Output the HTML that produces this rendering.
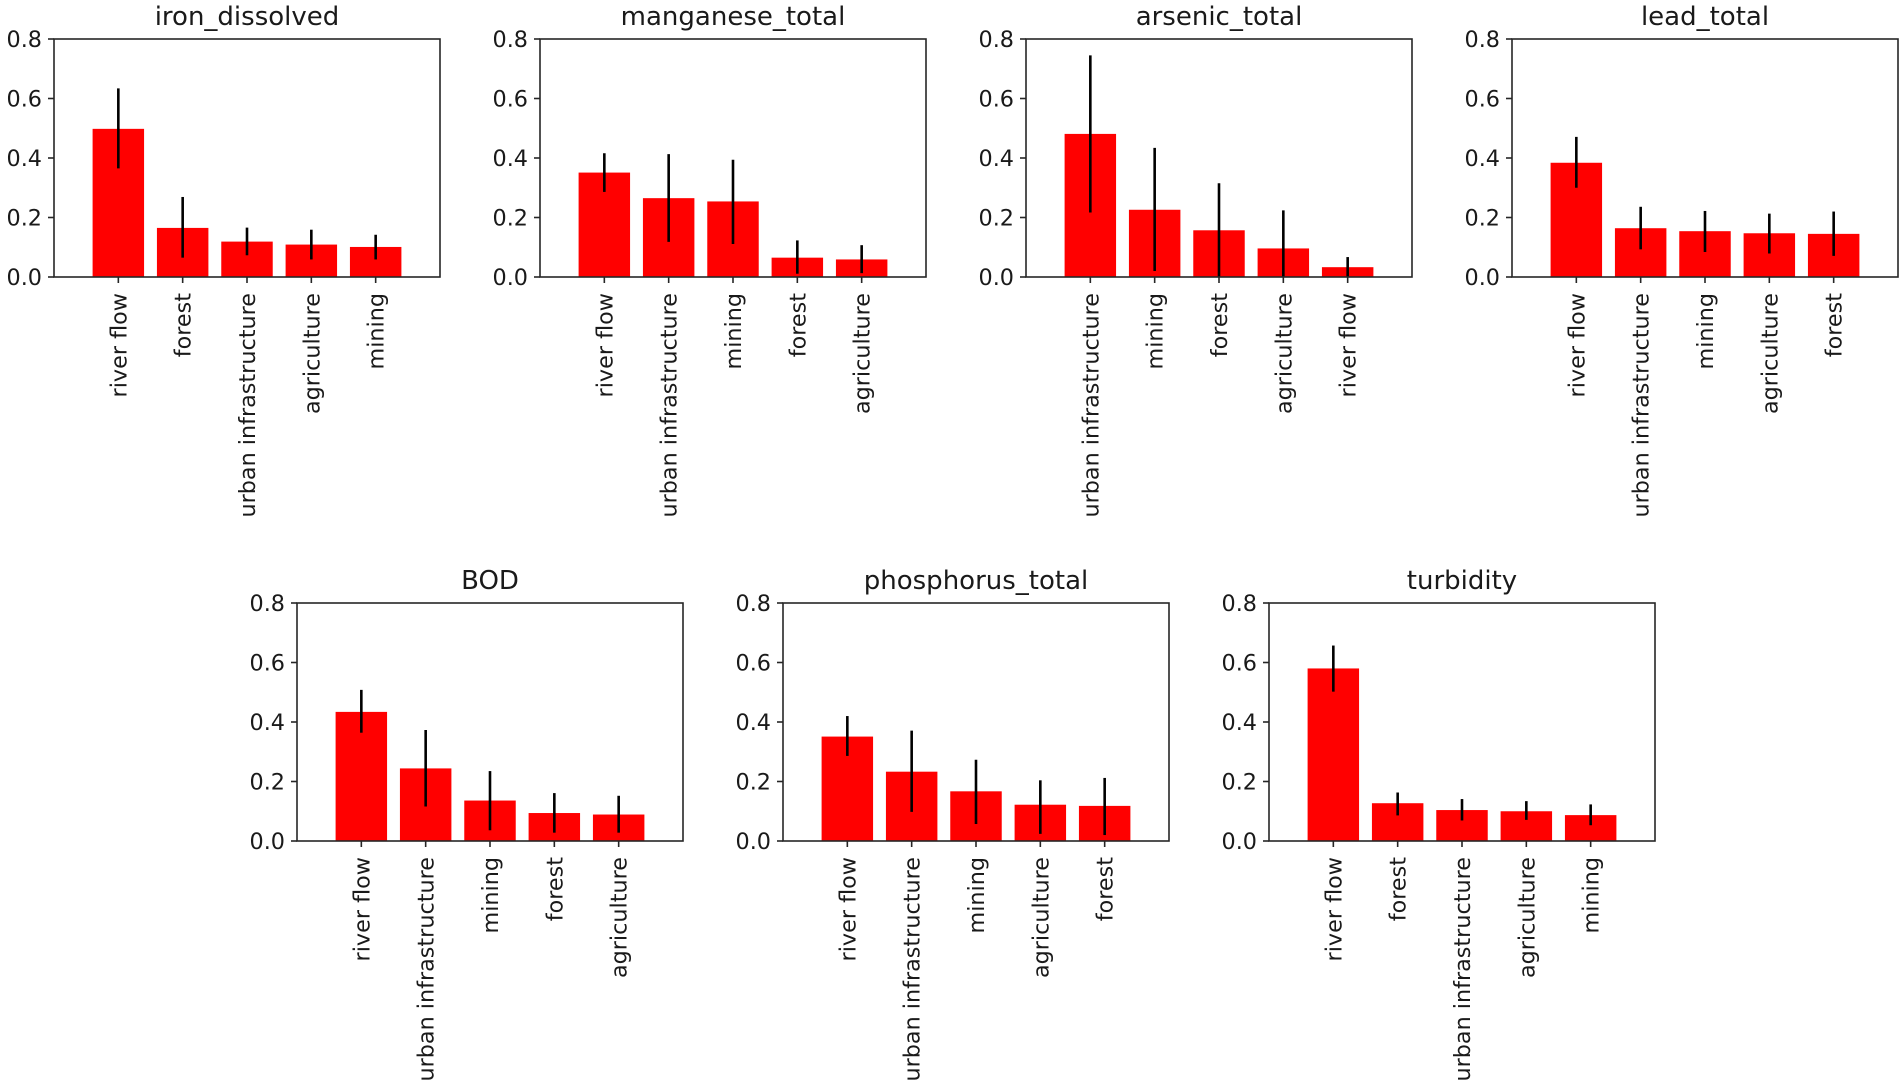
<!DOCTYPE html>
<html><head><meta charset="utf-8"><style>
html,body{margin:0;padding:0;background:#fff;}
svg{display:block;font-family:"DejaVu Sans","Liberation Sans",sans-serif;}
</style></head><body>
<svg id="fig" width="1902" height="1087" viewBox="0 0 1902 1087" xmlns="http://www.w3.org/2000/svg"></svg>
<script>
const titles = ["iron_dissolved","manganese_total","arsenic_total","lead_total","BOD","phosphorus_total","turbidity"];
const categories = [
  ["river flow","forest","urban infrastructure","agriculture","mining"],
  ["river flow","urban infrastructure","mining","forest","agriculture"],
  ["urban infrastructure","mining","forest","agriculture","river flow"],
  ["river flow","urban infrastructure","mining","agriculture","forest"],
  ["river flow","urban infrastructure","mining","forest","agriculture"],
  ["river flow","urban infrastructure","mining","agriculture","forest"],
  ["river flow","forest","urban infrastructure","agriculture","mining"]
];
const values = [
  [0.498,0.165,0.119,0.109,0.101],
  [0.351,0.265,0.254,0.065,0.059],
  [0.481,0.226,0.157,0.096,0.033],
  [0.384,0.164,0.154,0.147,0.145],
  [0.434,0.244,0.136,0.094,0.089],
  [0.351,0.233,0.167,0.122,0.118],
  [0.580,0.127,0.104,0.100,0.087]
];
const errLow = [
  [0.365,0.065,0.073,0.059,0.059],
  [0.286,0.118,0.111,0.011,0.013],
  [0.217,0.020,0.000,0.000,0.000],
  [0.300,0.093,0.084,0.079,0.071],
  [0.364,0.116,0.036,0.028,0.028],
  [0.286,0.098,0.057,0.024,0.020],
  [0.502,0.086,0.069,0.071,0.053]
];
const errHigh = [
  [0.634,0.269,0.166,0.159,0.142],
  [0.416,0.413,0.394,0.123,0.107],
  [0.745,0.434,0.315,0.224,0.067],
  [0.471,0.236,0.222,0.213,0.220],
  [0.508,0.373,0.235,0.161,0.152],
  [0.420,0.371,0.273,0.204,0.212],
  [0.657,0.163,0.141,0.134,0.123]
];
const yTicks = [0,0.2,0.4,0.6,0.8];
const yTickLabels = ["0.0","0.2","0.4","0.6","0.8"];

const NS="http://www.w3.org/2000/svg";
const svg=document.getElementById('fig');
function mk(tag,attrs,parent){const e=document.createElementNS(NS,tag);for(const k in attrs)e.setAttribute(k,attrs[k]);(parent||svg).appendChild(e);return e;}

const W=386,H=238;
const lefts=[54,540,1026,1512,297,783,1269];
const tops=[39,39,39,39,603,603,603];

for(let p=0;p<7;p++){
  const L=lefts[p],T=tops[p],B=T+H;
  const g=mk('g',{});
  
  
  const xs=i=>L+(i+1)*W/6;
  const ys=v=>B-v/0.8*H;
  const bw=0.8*W/6;
  for(let i=0;i<5;i++){
    const r=mk('rect',{x:xs(i)-bw/2,y:ys(values[p][i]),width:bw,height:B-ys(values[p][i]),fill:'#ff0000'},g);
    
    
  }
  for(let i=0;i<5;i++){
    const e=mk('line',{x1:xs(i),x2:xs(i),y1:ys(errLow[p][i]),y2:ys(errHigh[p][i]),stroke:'#000','stroke-width':2.6},g);
    
    
  }
  const fr=mk('rect',{x:L,y:T,width:W,height:H,fill:'none',stroke:'#262626','stroke-width':1.6},g);
  
  
  for(let k=0;k<yTicks.length;k++){
    const y=ys(yTicks[k]);
    mk('line',{x1:L-6,x2:L,y1:y,y2:y,stroke:'#262626','stroke-width':1.6},g);
    const t=mk('text',{x:L-12,y:y+8,'text-anchor':'end','font-size':22.3,fill:'#1a1a1a'},g);
    t.textContent=yTickLabels[k];
    
    
  }
  for(let i=0;i<5;i++){
    const x=xs(i);
    mk('line',{x1:x,x2:x,y1:B,y2:B+6,stroke:'#262626','stroke-width':1.6},g);
    const t=mk('text',{x:0,y:0,'text-anchor':'end','font-size':22.3,fill:'#1a1a1a',transform:'translate('+(x+8)+','+(B+16)+') rotate(-90)'},g);
    t.textContent=categories[p][i];
    
    
  }
  const tt=mk('text',{x:L+W/2,y:T-14,'text-anchor':'middle','font-size':26,fill:'#1a1a1a'},g);
  tt.textContent=titles[p];
  
  
}
</script>
</body></html>
